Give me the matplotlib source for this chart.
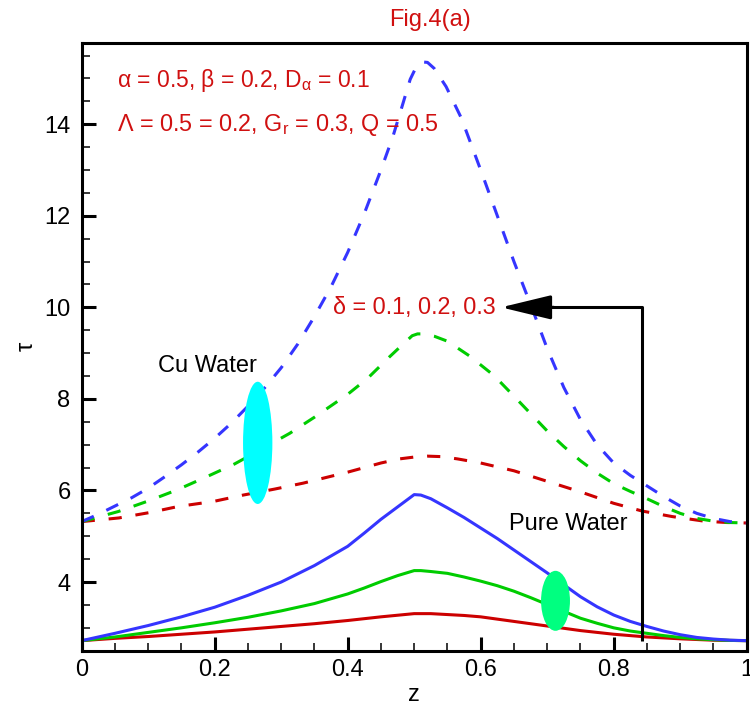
import matplotlib
matplotlib.use("Agg")
import matplotlib.pyplot as plt
from matplotlib.patches import Ellipse
from matplotlib.ticker import MultipleLocator

plt.rcParams['font.family'] = ['Liberation Sans', 'DejaVu Sans']
plt.rcParams['mathtext.fontset'] = 'custom'
plt.rcParams['mathtext.rm'] = 'Liberation Sans'
plt.rcParams['mathtext.it'] = 'Liberation Sans'
plt.rcParams['mathtext.bf'] = 'Liberation Sans:bold'
plt.rcParams['lines.scale_dashes'] = False

# ---- data: Cu-water (dashed) ----
cu_blue_z = [0, 0.025, 0.05, 0.075, 0.1, 0.125, 0.15, 0.175, 0.2, 0.225, 0.25, 0.275, 0.3, 0.325,
             0.35, 0.375, 0.4, 0.425, 0.45, 0.468, 0.482, 0.494, 0.503, 0.512, 0.52, 0.53, 0.548,
             0.571, 0.6, 0.625, 0.65, 0.678, 0.7, 0.725, 0.75, 0.775, 0.8, 0.825, 0.85, 0.875, 0.9,
             0.925, 0.95, 0.975, 1.0]
cu_blue_t = [5.32, 5.48, 5.66, 5.84, 6.05, 6.3, 6.56, 6.84, 7.14, 7.47, 7.84, 8.24, 8.68, 9.2,
             9.8, 10.45, 11.2, 12.05, 13.0, 13.73, 14.4, 14.98, 15.25, 15.36, 15.35, 15.22, 14.82,
             14.13, 13.0, 12.0, 11.0, 9.95, 9.1, 8.25, 7.55, 7.0, 6.6, 6.33, 6.1, 5.87, 5.66,
             5.5, 5.39, 5.32, 5.29]
cu_green_z = [0, 0.025, 0.055, 0.1, 0.143, 0.188, 0.23, 0.27, 0.313, 0.35, 0.4, 0.43, 0.463, 0.485,
              0.497, 0.505, 0.515, 0.53, 0.55, 0.583, 0.62, 0.65, 0.675, 0.7, 0.725, 0.75, 0.775,
              0.8, 0.825, 0.85, 0.875, 0.9, 0.925, 0.95, 0.975, 1.0]
cu_green_t = [5.32, 5.42, 5.54, 5.77, 6.01, 6.30, 6.58, 6.9, 7.25, 7.6, 8.1, 8.45, 8.92, 9.22,
              9.38, 9.42, 9.42, 9.37, 9.26, 8.94, 8.51, 8.06, 7.68, 7.3, 6.96, 6.65, 6.38,
              6.15, 5.98, 5.82, 5.65, 5.5, 5.39, 5.33, 5.3, 5.29]
cu_red_z = [0, 0.056, 0.103, 0.145, 0.198, 0.243, 0.29, 0.333, 0.4, 0.45, 0.478, 0.5, 0.52, 0.54,
            0.565, 0.6, 0.65, 0.7, 0.75, 0.8, 0.843, 0.888, 0.936, 0.97, 1.0]
cu_red_t = [5.32, 5.4, 5.52, 5.65, 5.76, 5.9, 6.03, 6.16, 6.4, 6.6, 6.69, 6.73, 6.75, 6.74,
            6.69, 6.6, 6.43, 6.2, 5.97, 5.72, 5.55, 5.43, 5.33, 5.3, 5.29]

# ---- data: pure water (solid) ----
pw_blue_z = [0, 0.05, 0.1, 0.15, 0.2, 0.25, 0.3, 0.35, 0.4, 0.425, 0.45, 0.475, 0.5, 0.51, 0.525,
             0.55, 0.575, 0.6, 0.625, 0.65, 0.675, 0.7, 0.725, 0.75, 0.775, 0.8, 0.825, 0.85,
             0.875, 0.9, 0.925, 0.95, 0.975, 1.0]
pw_blue_t = [2.72, 2.88, 3.05, 3.24, 3.45, 3.71, 4.0, 4.36, 4.78, 5.07, 5.37, 5.64, 5.91, 5.9, 5.82,
             5.62, 5.41, 5.18, 4.95, 4.7, 4.45, 4.2, 3.94, 3.68, 3.46, 3.28, 3.14, 3.03,
             2.93, 2.85, 2.79, 2.755, 2.73, 2.72]
pw_green_z = [0, 0.05, 0.1, 0.15, 0.2, 0.25, 0.3, 0.35, 0.4, 0.425, 0.45, 0.475, 0.5, 0.51, 0.525,
              0.55, 0.575, 0.6, 0.625, 0.65, 0.675, 0.7, 0.725, 0.75, 0.775, 0.8, 0.825, 0.85,
              0.875, 0.9, 0.925, 0.95, 0.975, 1.0]
pw_green_t = [2.72, 2.8, 2.9, 3.0, 3.11, 3.23, 3.37, 3.53, 3.74, 3.87, 4.01, 4.14, 4.25, 4.25, 4.23,
              4.19, 4.11, 4.02, 3.92, 3.8, 3.66, 3.51, 3.36, 3.21, 3.1, 3.0, 2.93, 2.88,
              2.83, 2.79, 2.76, 2.74, 2.725, 2.72]
pw_red_z = [0, 0.05, 0.1, 0.15, 0.2, 0.25, 0.3, 0.35, 0.4, 0.45, 0.5, 0.525, 0.55, 0.575, 0.6,
            0.625, 0.65, 0.7, 0.75, 0.8, 0.85, 0.9, 0.95, 1.0]
pw_red_t = [2.72, 2.77, 2.81, 2.86, 2.91, 2.97, 3.03, 3.09, 3.16, 3.24, 3.31, 3.31, 3.29, 3.27, 3.24,
            3.19, 3.14, 3.04, 2.94, 2.86, 2.8, 2.76, 2.73, 2.72]

title = "Fig.4(a)"
param_line1 = r"α = 0.5, β = 0.2, D$_{α}$ = 0.1"
param_line2 = r"Λ = 0.5 = 0.2, G$_{r}$ = 0.3, Q = 0.5"
delta_label = "δ = 0.1, 0.2, 0.3"
x_ticks = [0, 0.2, 0.4, 0.6, 0.8, 1]
x_tick_labels = ["0", "0.2", "0.4", "0.6", "0.8", "1"]
y_ticks = [4, 6, 8, 10, 12, 14]
y_tick_labels = ["4", "6", "8", "10", "12", "14"]

BLUE = '#3535ff'
GREEN = '#00cc00'
RED = '#cc0000'
TXT_RED = '#d01010'

fig = plt.figure(figsize=(7.5, 7.06), dpi=100)
ax = fig.add_axes([0.1089, 0.0783, 0.9956 - 0.1089, 0.9395 - 0.0783])

lw = 2.2
dash = (0, (9.5, 10))
ax.plot(cu_red_z, cu_red_t, color=RED, lw=lw, linestyle=dash)
ax.plot(cu_green_z, cu_green_t, color=GREEN, lw=lw, linestyle=dash)
ax.plot(cu_blue_z, cu_blue_t, color=BLUE, lw=lw, linestyle=dash)
ax.plot(pw_red_z, pw_red_t, color=RED, lw=lw)
ax.plot(pw_green_z, pw_green_t, color=GREEN, lw=lw)
ax.plot(pw_blue_z, pw_blue_t, color=BLUE, lw=lw)

ax.set_xlim(0, 1)
ax.set_ylim(2.5, 15.78)

ax.set_xticks(x_ticks)
ax.set_xticklabels(x_tick_labels)
ax.set_yticks(y_ticks)
ax.set_yticklabels(y_tick_labels)
ax.xaxis.set_minor_locator(MultipleLocator(0.05))
ax.yaxis.set_minor_locator(MultipleLocator(0.5))
ax.tick_params(which='major', direction='in', length=10, width=2.2, labelsize=17, pad=6,
               top=False, right=False)
ax.tick_params(which='minor', direction='in', length=5.5, width=1.1, top=False, right=False)
ax.tick_params(axis='y', which='major', pad=8)
for s in ax.spines.values():
    s.set_linewidth(2.2)

ax.set_xlabel("z", fontsize=17, labelpad=2)
ax.set_ylabel("τ", fontsize=17, labelpad=5)

# ellipses
ax.add_patch(Ellipse((0.2647, 7.04), 0.0441, 2.67, facecolor='#00ffff', edgecolor='none', zorder=5))
ax.add_patch(Ellipse((0.7125, 3.59), 0.0435, 1.31, facecolor='#00ff80', edgecolor='none', zorder=5))

# texts
ax.text(0.1146, 8.72, "Cu Water", fontsize=17, va='center', ha='left', zorder=6)
ax.text(0.643, 5.27, "Pure Water", fontsize=17, va='center', ha='left', zorder=6)
ax.text(0.053, 14.95, param_line1, fontsize=16.5, color=TXT_RED, va='center', ha='left')
ax.text(0.053, 13.98, param_line2, fontsize=16.8, color=TXT_RED, va='center', ha='left')
ax.text(0.623, 10.0, delta_label, fontsize=16.8, color=TXT_RED, va='center', ha='right')
fig.text(430 / 750, 1 - 20 / 706, title, fontsize=17, color=TXT_RED, ha='center', va='center')

# arrow: vertical + horizontal connector, then arrow head
ax.plot([0.843, 0.843, 0.70], [2.71, 10.0, 10.0], color='black', lw=2.2, solid_capstyle='butt', zorder=4)
ax.annotate("", xy=(0.6306, 10.0), xytext=(0.71, 10.0),
            arrowprops=dict(arrowstyle='-|>,head_length=3.1,head_width=0.75', mutation_scale=10,
                            color='black', lw=2.2, shrinkA=0, shrinkB=0), zorder=4)

fig.savefig("out.png", dpi=100)
